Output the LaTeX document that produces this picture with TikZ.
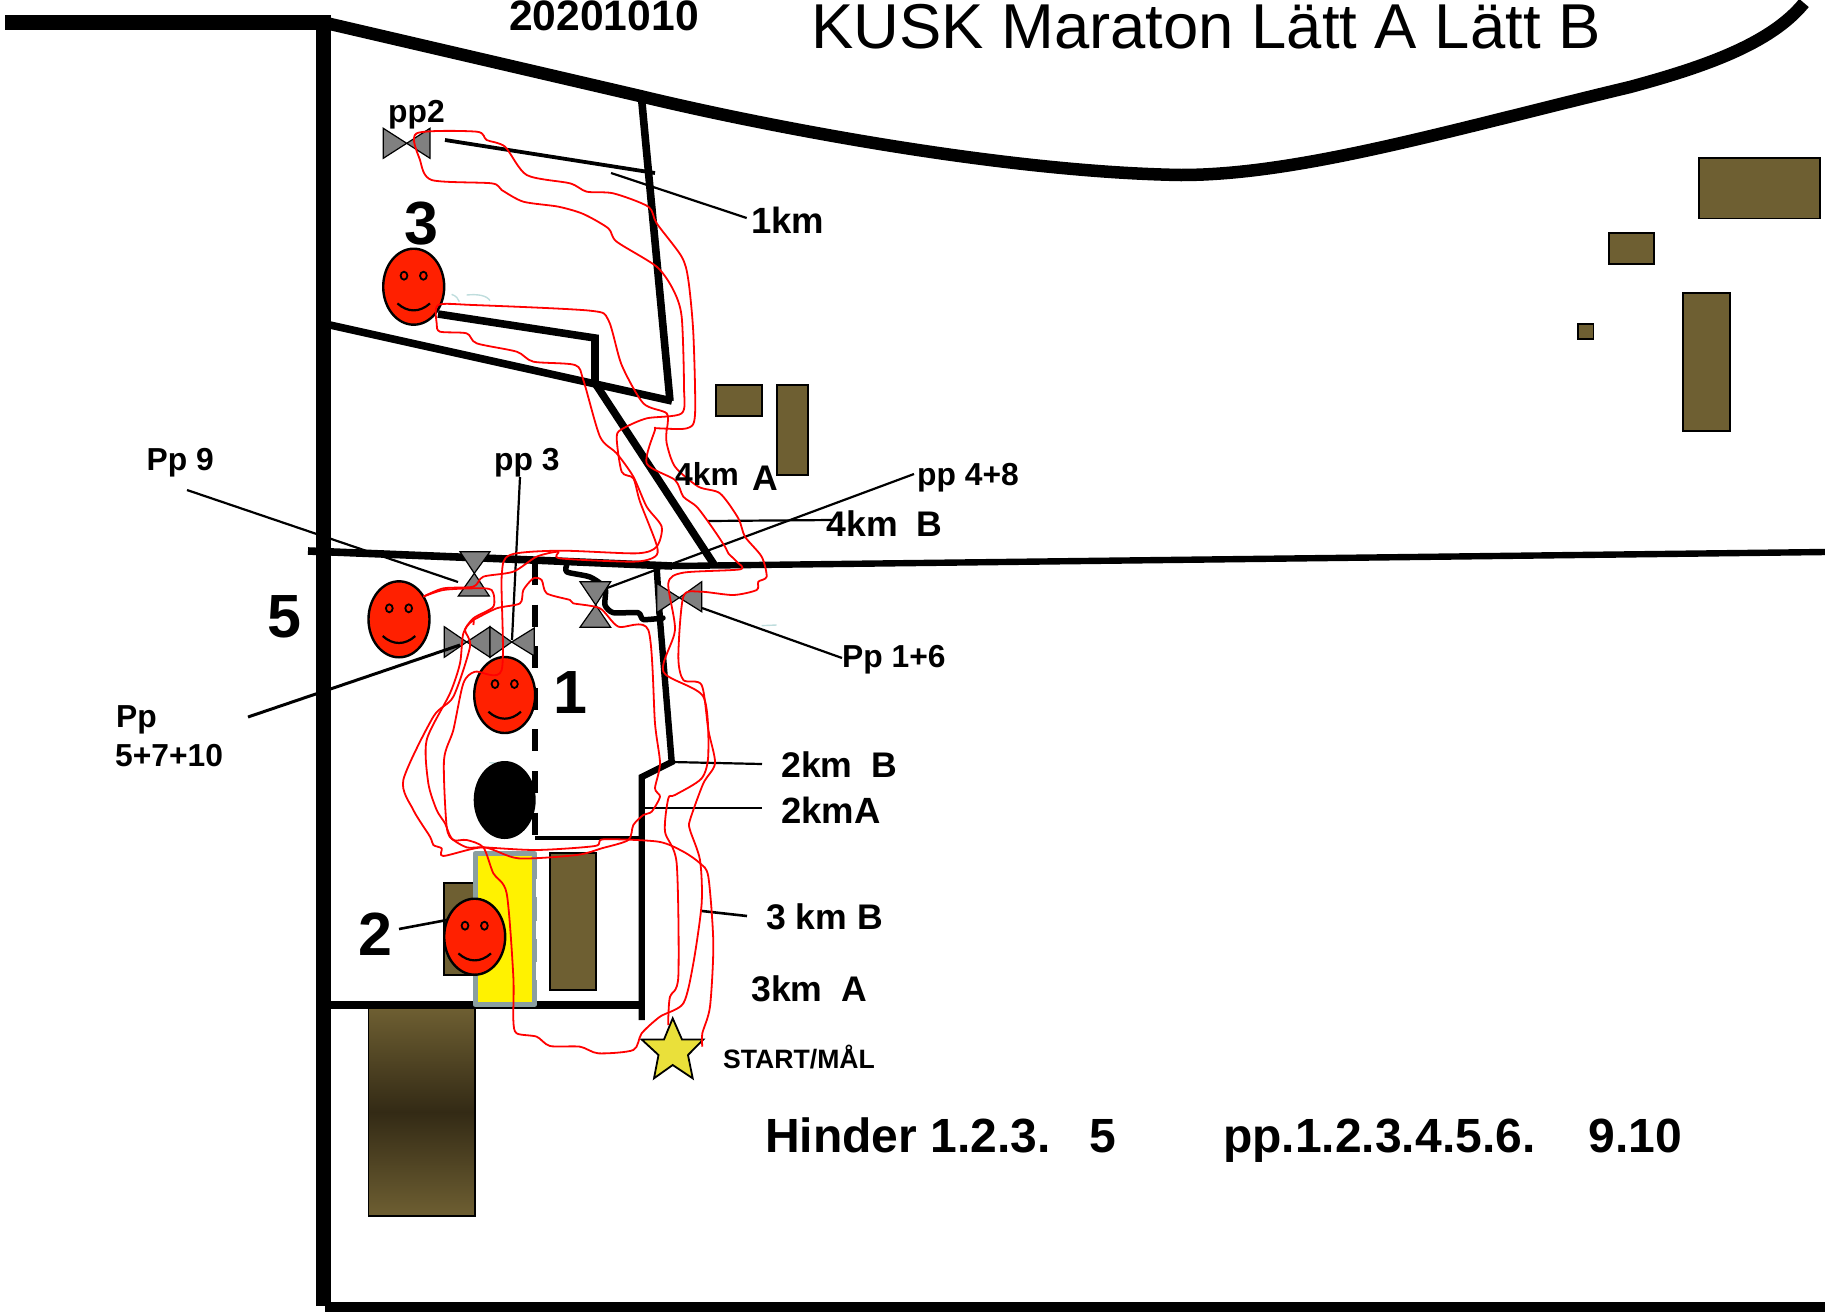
\documentclass[tikz,border=0pt]{standalone}
\usepackage{fontspec}
\setmainfont{Liberation Sans}
\definecolor{brownbox}{HTML}{6E5F32}
\definecolor{darkbox}{HTML}{332A15}
\definecolor{smred}{HTML}{FF2000}
\definecolor{starfill}{HTML}{EAE03A}
\definecolor{yellowedge}{HTML}{8A9EA0}
\definecolor{palemark}{HTML}{BFDDDD}
\definecolor{valvegrey}{HTML}{808080}
\tikzset{
  road/.style={draw=black,line width=7.6pt,line join=miter},
  building/.style={draw=black,fill=brownbox,line width=1.8pt},
  valve/.style={draw=black,fill=valvegrey,line width=1.2pt},
  leader/.style={draw=black,line width=2.2pt},
  route/.style={draw=red,line width=1.8pt,line join=round,smooth,tension=.45},
  lab/.style={anchor=base west,inner sep=0pt,font=\bfseries\fontsize{35.6}{40}\selectfont},
  labs/.style={anchor=base west,inner sep=0pt,font=\bfseries\fontsize{31.8}{36}\selectfont},
  big/.style={anchor=base west,inner sep=0pt,font=\bfseries\fontsize{61}{66}\selectfont},
  line/.style={anchor=base west,inner sep=0pt,font=\bfseries\fontsize{48}{54}\selectfont},
}
\newcommand{\smface}[2]{%
  \begin{scope}[shift={(#1,#2)}]
    \draw[fill=smred,line width=2.4pt] (0,0) ellipse [x radius=30.5pt,y radius=38pt];
    \draw[line width=1.8pt] (-9.7,-11) ellipse [x radius=3.4pt,y radius=4pt];
    \draw[line width=1.8pt] (9.7,-11) ellipse [x radius=3.4pt,y radius=4pt];
    \draw[line width=2.2pt] (-16.3,16.7) .. controls (-6,26) and (6,26) .. (16.3,16.7);
  \end{scope}}
\begin{document}
\begin{tikzpicture}[x=1pt,y=-1pt]
\useasboundingbox (0,0) rectangle (1825,1312);
% frame roads
\draw[line width=15pt] (5,22) -- (323,22);
\draw[line width=15pt] (323.3,15) -- (323.3,1306);
\draw[line width=10pt] (325,1307) -- (1825,1307);
\draw[line width=12.5pt] (326,23) -- (640,96) .. controls (760,125) and (1000,172) .. (1181,175)
  .. controls (1300,175) and (1450,130) .. (1630,87) .. controls (1700,68) and (1770,45) .. (1804,3);
% inner roads
\draw[road] (641.7,100) -- (670,401);
\draw[road] (330,325) -- (672,401);
\draw[road] (438,314) -- (595,338) -- (595,383) -- (715,566);
\draw[road] (308,551) -- (532,560) -- (672,566);
\draw[road,line width=6.4pt] (672,566) -- (1825,552);
\draw[road,dash pattern=on 22pt off 19.6pt,line width=6.2pt] (535,563) -- (535,838);
\draw[road,line width=4.5pt] (535,838) -- (642,838);
\draw[road,line width=6.4pt] (656.7,568) -- (660,620) -- (671.7,762) -- (641.7,777) -- (641.7,1020);
\draw[road,line cap=round,line join=round,line width=5.5pt] plot[smooth,tension=.4] coordinates {(566.7,565) (567,572) (590,577) (605,588) (605,605) (613.3,612.7) (638,612.7) (643.3,619.5) (663,618)};
\draw[road] (328,1005) -- (641,1005);
% buildings
\draw[building] (1699,158) rectangle (1820,218.5);
\draw[building] (1609,233) rectangle (1654,264);
\draw[building] (1578,324) rectangle (1593.5,339);
\draw[building] (1683,293) rectangle (1730,431);
\draw[building] (715.7,385) rectangle (762.3,415.7);
\draw[building] (776.7,385) rectangle (808,475);
\draw[building] (550,853.3) rectangle (595.7,990);
\draw[building] (444,883) rectangle (476,975);
\shade[top color=brownbox,bottom color=brownbox,middle color=darkbox] (368.5,1008) rectangle (475,1216);
\draw[line width=1.8pt] (368.5,1008) rectangle (475,1216);
\draw[fill=yellow,draw=yellowedge,line width=5pt,line join=round] (475,853.5) rectangle (534.7,1004.5);
\draw[white,line width=1.6pt,dash pattern=on 18pt off 23.7pt] (537.2,879) -- (537.2,1000);
% pale mark behind the dark pond
\draw[palemark,line width=1.4pt] (489.3,762.7) -- (500,763.3);
% dark pond
\draw[fill=black,line width=2pt] (504.7,800) ellipse [x radius=30pt,y radius=38pt];
% faces
\smface{413.7}{286.7}
\smface{399}{619.3}
\smface{504.7}{695}
\smface{474.7}{936.7}
% valves
\draw[valve] (383.3,128.3) -- (383.3,158.3) -- (406.7,143.3) -- (430,158.3) -- (430,128.3) -- (406.7,143.3) -- cycle;
\draw[valve] (460,551.7) -- (490,551.7) -- (474.3,573.3) -- (489.3,596) -- (458.3,596) -- (474.3,573.3) -- cycle;
\draw[valve] (444.3,626.7) -- (444.3,657.3) -- (466.7,642) -- (490,657.3) -- (490,626.7) -- (466.7,642) -- cycle;
\draw[valve] (490,626.7) -- (490,657.3) -- (511.7,642) -- (534.3,656) -- (534.3,628) -- (511.7,642) -- cycle;
\draw[valve] (580,581.7) -- (610.7,581.7) -- (595.7,605) -- (610.7,627.3) -- (580,627.3) -- (595.7,605) -- cycle;
\draw[valve] (656.7,583.3) -- (656.7,612.7) -- (679.3,597.7) -- (701.7,611.7) -- (701.7,581.7) -- (679.3,597.7) -- cycle;
% star
\draw[fill=starfill,line width=1.8pt,line join=miter] (672.7,1018.3) -- (682,1039.5) -- (703.3,1039.5) -- (688,1055) -- (692.7,1078.3) -- (672.7,1065) -- (654,1078.3) -- (658.5,1055) -- (641.7,1039.5) -- (664,1039.5) -- cycle;
% leader lines
\draw[leader,line width=3.8pt] (445,140) -- (655,173);
\draw[leader] (611,173) -- (746.7,218);
\draw[leader] (187,490) -- (458,582);
\draw[leader] (520,477) -- (512,640);
\draw[leader,line width=3pt] (248,717) -- (460,645);
\draw[leader] (607,588) -- (914,474);
\draw[leader] (708,521) -- (832,520);
\draw[leader] (702,608) -- (842,658);
\draw[leader] (672,762) -- (762,764);
\draw[leader] (643,808) -- (762,808);
\draw[leader,line width=2.6pt] (702,911) -- (747,916);
\draw[leader,line width=2.6pt] (399,929) -- (447,920);
% pale marks and routes, traced on a 3x grid
\begin{scope}[shift={(350,430)},x=0.33333pt,y=-0.33333pt]
\draw[palemark,line width=1.4pt] (305,-407) .. controls (318,-402) and (325,-395) .. (328,-385);
\draw[palemark,line width=1.4pt] (350,-405) .. controls (380,-408) and (410,-405) .. (420,-388);
\draw[palemark,line width=1.4pt] (1235,587) -- (1280,585);
\draw[route] plot coordinates {(955,1785) (955,1760) (960,1700) (985,1640) (980,1300) (945,1205) (955,1105) (975,1095) (1055,1045) (1075,970) (1060,800) (940,725) (975,600) (955,460) (1000,428) (1170,418) (1160,395) (1135,370) (1125,350) (1085,290) (1040,230) (1000,200) (975,150) (890,100) (915,0) (920,-5) (1010,-5) (1035,-45) (1030,-290) (1015,-450) (995,-520) (920,-620) (895,-670) (790,-710) (710,-715) (660,-740) (530,-765) (465,-850) (410,-870) (380,-895) (200,-890) (210,-810) (245,-750) (425,-740) (455,-720) (520,-685) (625,-670) (700,-648) (775,-605) (800,-565) (920,-490) (970,-420) (995,-340) (1002,-130) (995,-50) (890,-35) (820,-5) (800,20) (815,125) (850,145) (870,215) (920,345) (915,380) (850,395) (630,385) (625,365) (560,380) (490,425) (400,440) (370,470) (280,475) (220,500)};
\draw[route] plot coordinates {(220,500) (280,480) (370,475) (425,480) (430,530) (370,565) (340,610) (330,700) (300,790) (230,930) (235,1060) (260,1140) (285,1180) (305,1225) (350,1252) (400,1252) (560,1260) (735,1248) (760,1228) (925,1235) (1000,1265) (1050,1300) (1075,1340) (1090,1540) (1080,1730) (1057,1810) (1057,1850)};
\draw[route] plot coordinates {(950,0) (950,40) (975,110) (1045,170) (1110,190) (1165,265) (1185,320) (1235,380) (1250,440) (1225,455) (1220,480) (1150,495) (1050,485) (1000,500) (985,680) (1000,750) (1055,765) (1075,900) (1095,1000) (1060,1060) (1020,1170) (1020,1200) (1050,1290) (1055,1420) (1030,1600) (1000,1720) (930,1760) (875,1810) (850,1860) (745,1870) (690,1850) (600,1848) (560,1820) (500,1810) (490,1770) (490,1640) (470,1390) (430,1330) (400,1252) (350,1230) (310,1230) (290,1190) (282,990) (310,900) (340,760) (375,725) (455,720) (455,440) (480,375) (630,362) (860,370) (920,350) (935,290) (890,230) (850,140) (800,70) (750,20) (700,-150) (675,-195) (550,-205) (500,-235) (380,-260) (350,-290) (270,-295) (260,-320) (265,-375) (370,-375) (720,-358) (775,-330) (815,-195) (880,-80) (950,-50) (950,0)};
\draw[route] plot coordinates {(370,585) (370,570) (345,600) (360,650) (310,800) (250,860) (160,1050) (190,1140) (240,1220) (250,1245) (275,1255) (280,1278) (400,1252) (505,1285) (680,1275) (755,1255) (835,1230) (850,1185) (880,1155) (905,1145) (930,1100) (915,1075) (930,1000) (915,880) (895,600) (805,590) (750,535) (670,520) (660,510) (590,490) (575,450) (550,445) (520,480) (510,520) (440,535) (370,570)};
\end{scope}
% text
\node[anchor=base west,inner sep=0pt,font=\bfseries\fontsize{42.6}{46}\selectfont] (date) at (509,30) {20201010};
\node[anchor=base west,inner sep=0pt,font=\fontsize{63.4}{68}\selectfont] (title) at (811,48) {KUSK Maraton Lätt A Lätt B};
\node[labs] (pp2) at (388,122) {pp2};
\node[lab,font=\bfseries\fontsize{36.5}{40}\selectfont] (km1) at (751,233) {1km};
\node[big] (n3) at (404,244) {3};
\node[labs] (pp9) at (146.5,470) {Pp 9};
\node[labs] (pp3) at (494,470) {pp 3};
\node[labs] (km4a) at (675,485) {4km};
\node[lab] (km4aA) at (752,490) {A};
\node[labs] (pp48) at (917,485) {pp 4+8};
\node[lab] (km4b) at (826.5,536) {4km\hspace{19pt}B};
\node[big] (n5) at (267.5,637) {5};
\node[labs] (pp16) at (842,667) {Pp 1+6};
\node[labs] (pp5a) at (116,727) {Pp};
\node[labs] (pp5b) at (115,766) {5+7+10};
\node[big] (n1) at (553,713) {1};
\node[lab] (km2b) at (781,777) {2km\hspace{19pt}B};
\node[lab,font=\bfseries\fontsize{36.5}{40}\selectfont] (km2a) at (781,823) {2kmA};
\node[big] (n2) at (358,955) {2};
\node[lab] (km3b) at (766,929) {3 km B};
\node[lab] (km3a) at (751,1001) {3km\hspace{19pt}A};
\node[anchor=base west,inner sep=0pt,font=\bfseries\fontsize{26.6}{30}\selectfont] (start) at (723,1068) {START/MÅL};
\node[line] (hinder) at (765,1152) {Hinder 1.2.3.\hspace{39pt}5};
\node[line] (ppl) at (1223,1152) {pp.1.2.3.4.5.6.\hspace{53pt}9.10};
\end{tikzpicture}
\end{document}
